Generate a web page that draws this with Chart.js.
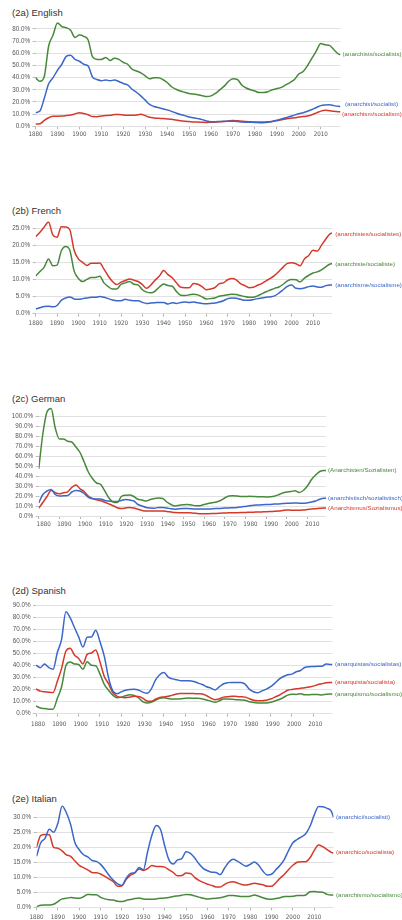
<!DOCTYPE html>
<html><head><meta charset="utf-8">
<script src="https://cdn.jsdelivr.net/npm/chart.js@4.4.1/dist/chart.umd.min.js"></script>
<style>
html,body{margin:0;padding:0;background:#fff;}
body{width:402px;height:920px;position:relative;overflow:hidden;font-family:"Liberation Sans",Arial,sans-serif;}
.title{position:absolute;left:12px;font-size:9.5px;line-height:12px;color:#333;white-space:nowrap;}
canvas{position:absolute;left:0;}
</style></head><body>
<div class="title" style="top:7px">(2a) English</div>
<div class="title" style="top:205px">(2b) French</div>
<div class="title" style="top:393px">(2c) German</div>
<div class="title" style="top:585px">(2d) Spanish</div>
<div class="title" style="top:793px">(2e) Italian</div>
<script>
// ---- x categories (years) ----
const years = [1880,1882,1884,1886,1888,1890,1892,1894,1896,1898,
  1900,1902,1904,1906,1908,1910,1912,1914,1916,1918,
  1920,1922,1924,1926,1928,1930,1932,1934,1936,1938,
  1940,1942,1944,1946,1948,1950,1952,1954,1956,1958,
  1960,1962,1964,1966,1968,1970,1972,1974,1976,1978,
  1980,1982,1984,1986,1988,1990,1992,1994,1996,1998,
  2000,2002,2004,2006,2008,2010,2012,2014,2016,2018,2019];

// ---- (2a) English ----
const enAnarchistsSocialists = [40,37,41,66,75,85,82,81,79,73,
  75,74,71,57,55,55,56.5,54,56,55,
  52.5,51,47,45.5,44,41.5,39,40,40,38.5,
  36,32.5,30.5,29,28,27,26.5,26,25.2,24.5,
  25,27,30,33,37,39,38.5,34,31.5,30,
  29,27.7,27.7,28.5,30,31,32,34,36,38.5,
  43,45,50,56,62,68,67,66.5,63,59.5,59];
const enAnarchistSocialist = [11.2,12.5,23,35,40,46,51,57.5,58.5,55,
  53.5,51,49.5,40.5,38.5,37.5,38,37.5,38,36.8,
  35.2,34,30.5,28,25,21.5,18,16.3,15.4,14.5,
  13.5,12.3,11,9.7,8.8,7.6,7,6.3,5.5,4.3,
  3.7,3.8,4,4.1,4.2,4.1,4,3.6,3.4,3.3,
  3.2,3,3,3.4,4.2,5,6,7,8,9.2,
  10.3,11.2,12.4,13.8,15.5,17,17.6,17.8,17,16.4,16.2];
const enAnarchismSocialism = [1.9,2.1,4.8,7,8.3,8.3,8.4,8.8,9.3,10.2,
  11.2,10.5,9.5,8,7.9,8.5,8.9,9,9.7,9.6,
  9.3,9,9,9.3,9.9,8.8,7.4,6.9,6.6,6.4,
  6.1,5.8,5.2,4.6,4.2,3.9,3.6,3.5,3.3,3.2,
  3.3,3.5,3.7,4,4.4,4.7,4.5,4.2,3.9,3.7,
  3.6,3.5,3.5,3.7,4,4.6,5.3,6,6.6,7,
  7.6,8,8.5,9.5,11,12.5,13.2,12.8,12.3,12,11.9];

// ---- (2b) French ----
const frAnarchistesSocialistes = [22.5,23.8,25.3,26.8,23,22.3,25.4,25.3,24.5,18.5,
  16,15,14.1,14.7,14.7,14.8,13,11,9.4,8.5,
  9.2,9.7,10.1,9.8,9.4,8.5,7.4,8.4,9.8,11,
  12.6,11.4,10.5,9,7.7,7.6,7.6,8.8,8.6,7.9,
  7,7.2,7.6,8.7,9,9.9,10.3,9.9,8.8,8.2,
  7.6,7.7,8.3,8.8,9.6,10.3,11.2,12.3,13.6,14.7,
  14.9,14.6,14,16,17,18.5,18.3,20,21.8,23.3,23.5];
const frAnarchisteSocialiste = [11,12.3,13.6,16,14,14.2,18.3,19.6,18.5,12.5,
  10.3,9.4,10,10.6,10.6,10.9,9,7.9,7.2,7.2,
  8.6,9,9.4,8.6,8.4,7,6.3,6.1,6.6,7.8,
  8.7,8.2,8,6.5,5.4,5.3,5.5,5.7,5.5,4.9,
  4.3,4.4,4.6,5.1,5.3,5.5,5.7,5.6,5.3,5,
  4.8,4.8,5.2,5.8,6.4,6.9,7.4,7.8,8.6,9.6,
  10,9.9,9.3,10.4,11.2,11.9,12.2,12.8,13.7,14.5,14.6];
const frAnarchismeSocialisme = [1.4,1.75,2.1,2.2,2,2.4,3.9,4.6,4.9,4.3,
  4.2,4.4,4.6,4.8,4.8,5,4.8,4.4,4,3.8,
  3.8,4.2,3.9,3.8,3.8,3.3,3,3.1,3.2,3.3,
  3.3,2.8,3.2,3,3.3,3.4,3.3,3.4,3.2,3,
  2.9,3,3.1,3.4,3.8,4.4,4.6,4.5,4.2,3.9,
  3.9,4.1,4.4,4.6,4.8,4.9,5.2,6,7,8,
  8.4,7.4,7.3,7.5,7.9,8.1,7.8,7.7,8.2,8.4,8.4];

// ---- (2c) German ----
const deAnarchistenSozialisten = [47,82,104,107.5,88,77,77,74.8,74,69,
  63.5,54,44,37.5,33,31.5,25,18,14,13.5,
  19.5,20.8,21,19.5,16.8,16,15,16.5,17.5,18,
  17.5,14,11.5,10,10.8,11.2,11.4,11,10.2,10.3,
  11.5,12.5,13.2,14,15.5,18,20,20.3,20,19.5,
  19.5,19.7,19.5,19.3,19.2,19.1,19.3,19.8,21.2,23,
  24,24.5,25.3,23.5,25.5,30,36.5,41,44.5,45.5,45.5];
const deAnarchistischSozialistisch = [13,21.5,25,26.5,21.5,20,20.2,20.4,24,25.6,
  25,22.5,18.7,17.3,17,17,15.5,15,14.6,14.6,
  15.5,16.5,16,15,11.5,10,8.5,8,7.7,8.6,
  8.5,8,7.2,6.8,7.3,7.4,7.4,7.2,7,7,
  7,7,7.2,7.4,7.6,8,8.1,8.3,8.5,9,
  9.6,10.2,10.8,11,11.2,11.4,11.6,11.9,12.1,12.4,
  12.7,12.8,13,12.8,12.7,13.2,14,15,16.8,17.7,17.7];
const deAnarchismusSozialismus = [7.7,13.5,19.5,25.5,23.3,22.2,23.3,24.2,28.5,31,
  27.2,24.5,20,17.6,16.3,15.2,13.7,12,10.3,8.3,
  7.5,8,8.4,8.1,6.8,5.6,5,5,5,5,
  5,4.6,4,3.4,3.3,3.3,3.3,3.1,2.8,2.3,
  2.3,2.3,2.4,2.6,2.8,3,3.2,3.3,3.3,3.4,
  3.6,3.7,3.8,4,4.1,4.2,4.4,4.7,5,5.5,
  6,5.8,5.7,5.7,6,6.5,7,7.3,7.7,8,8];

// ---- (2d) Spanish ----
const esAnarquistasSocialistas = [40.5,38.3,41.4,38.5,37,51,62,85,80,72,
  64,55.5,63.8,64,69.5,60,48,30,19,16.6,
  18.2,19.5,20.2,20.3,19.7,18,17,20.5,28,32.5,
  34.3,30.5,29,28.3,27.5,27.5,27.5,26.8,25.5,24.3,
  22.5,21.3,19.8,22.5,25,25.9,26.1,26.1,26,24.7,
  20.5,18.3,17.5,19,20.5,22.5,25.5,28.8,31,32.5,
  33,35,36,38.5,39.2,39.3,39.5,39.5,41.5,41.1,41];
const esAnarquistaSocialista = [20.6,18.8,18.2,17.8,17.6,27,37.8,52,54.5,49,
  46,41.5,49.4,50.6,53,43,31,25,17.5,14.5,
  13.6,13.3,13.8,14.5,14.3,13,10.6,10.3,12,13.6,
  14,14.5,15.5,16.5,16.8,16.9,16.9,16.8,16.6,16.4,
  15,13,11.6,12.5,13.8,14.2,14.6,14.4,14.1,13.8,
  12.5,11.2,10.8,10.8,11.3,12.2,13.8,15.4,17.5,19.5,
  20.2,20.7,21.2,21.6,22.3,23,24.2,25,25.8,26.1,26.1];
const esAnarquismoSocialismo = [6.4,4.8,4.3,3.8,3.8,12.8,22.5,40,43,41.5,
  41,37,43.3,40.3,40,33,24.5,19.5,15.5,13.2,
  13.8,15,15.8,15.3,13.3,10,9,9.5,11.2,12.8,
  13.3,12.6,12.2,12.2,12.4,12.9,13,12.8,12.8,12.3,
  11.4,10.4,9.5,10.8,12.2,12.2,12,11.7,11.5,11.2,
  10,9.4,9,8.9,9,9.6,10.6,11.8,13.5,15.5,
  16.3,16.1,16.6,15.8,15.8,16.1,16.1,15.6,16.2,16.4,16.4];

// ---- (2e) Italian ----
const itAnarchiciSocialisti = [17,21.5,23,26,25,28,33.8,31.5,27.5,21.5,
  19.2,17.5,16.8,15.6,15.3,14.3,12.6,10.6,9,7.8,
  7.3,9.7,11.3,11.5,13.3,12.5,18.5,24,27.3,26,
  20.5,15.8,14.4,15.8,16.2,18.5,18,16.5,14.5,13,
  12.2,11.7,11.6,10.9,13,15,16,15.4,14.5,13.7,
  14.3,15.1,14,12,10.8,11,12.5,14,16,19,
  21.5,22.6,23.5,24.5,27,30.8,33.6,33.5,33,32,30];
const itAnarchicoSocialista = [20,24,24.3,24.2,20,19.7,18.8,17.5,17,15.4,
  14,13.2,12.5,11.6,11.5,11.1,10.3,9.4,8.5,7,
  7.2,9.3,10.7,11.5,12.8,12.3,12.9,13.9,13.6,13.6,
  13.4,12.5,11.6,10.5,10.6,11.4,11.3,10,9,8.3,
  7.7,7.3,6.8,6.8,7.6,8.3,8.5,8.1,7.6,7.4,
  7.7,8,7.8,7.5,7,7,8.2,9.7,11,12.6,
  14,15,15.2,15.2,16.5,19,20.8,20.2,19.2,18.3,18];
const itAnarchismoSocialismo = [0.2,0.7,0.8,0.8,1,1.9,2.8,3,3.3,3.1,
  3,3.5,4.3,4.2,4.2,3.3,2.8,2.5,2.4,2,
  1.9,2.3,2.6,2.9,3.1,2.8,2.7,2.7,2.8,3,
  3.1,3.3,3.6,3.8,4,4.3,4.2,3.8,3.4,3,
  2.8,2.9,3,3.2,3.5,3.9,3.9,3.8,3.6,3.6,
  3.7,4.1,3.7,3.2,2.8,2.7,2.9,3.2,3.6,3.6,
  3.7,3.9,3.9,4.1,5.2,5.3,5.1,5,4.3,4.1,4.1];

// ---- styling / layout ----
const FONT = '"Liberation Sans", Arial, sans-serif';
const NARROW = '"Liberation Sans Narrow", "DejaVu Sans Condensed", "Liberation Sans", Arial, sans-serif';
const COL = {green:'#47893a', blue:'#3a67c9', red:'#d4392b'};

const panels = [
  {top:0, height:142, left:35.5, right:340.5, yTop:21.7, yBottom:126.3, max:86, step:10, xPad:1, xOff:0,
   series:[
     {label:'(anarchists/socialists)', data:enAnarchistsSocialists, color:COL.green, dx:2, dy:0},
     {label:'(anarchist/socialist)', data:enAnarchistSocialist, color:COL.blue, dx:4.5, dy:-2.3},
     {label:'(anarchism/socialism)', data:enAnarchismSocialism, color:COL.red, dx:1.5, dy:2}]},
  {top:200, height:132, left:35.7, right:332.2, yTop:221.2, yBottom:313.7, max:27, step:5, xPad:2.5, xOff:0,
   series:[
     {label:'(anarchistes/socialistes)', data:frAnarchistesSocialistes, color:COL.red, dx:3, dy:1},
     {label:'(anarchiste/socialiste)', data:frAnarchisteSocialiste, color:COL.green, dx:3, dy:1},
     {label:'(anarchisme/socialisme)', data:frAnarchismeSocialisme, color:COL.blue, dx:3, dy:0}]},
  {top:390, height:140, left:38.7, right:326, yTop:406.5, yBottom:516, max:109.5, step:10, xPad:2, xOff:5,
   series:[
     {label:'(Anarchisten/Sozialisten)', data:deAnarchistenSozialisten, color:COL.green, dx:2, dy:0},
     {label:'(anarchistisch/sozialistisch)', data:deAnarchistischSozialistisch, color:COL.blue, dx:2, dy:0},
     {label:'(Anarchismus/Sozialismus)', data:deAnarchismusSozialismus, color:COL.red, dx:2, dy:0}]},
  {top:580, height:150, left:36, right:332.5, yTop:605.7, yBottom:713.7, max:90, step:10, xPad:4, xOff:2,
   series:[
     {label:'(anarquistas/socialistas)', data:esAnarquistasSocialistas, color:COL.blue, dx:2.5, dy:0},
     {label:'(anarquista/socialista)', data:esAnarquistaSocialista, color:COL.red, dx:2.5, dy:0},
     {label:'(anarquismo/socialismo)', data:esAnarquismoSocialismo, color:COL.green, dx:2.5, dy:0}]},
  {top:790, height:130, left:36.5, right:333.5, yTop:805.3, yBottom:907.3, max:34, step:5, xPad:3, xOff:0,
   series:[
     {label:'(anarchici/socialisti)', data:itAnarchiciSocialisti, color:COL.blue, dx:2.5, dy:0},
     {label:'(anarchico/socialista)', data:itAnarchicoSocialista, color:COL.red, dx:2.5, dy:-1},
     {label:'(anarchismo/socialismo)', data:itAnarchismoSocialismo, color:COL.green, dx:2.5, dy:0}]}
];

const endLabels = {
  id:'endLabels',
  afterDatasetsDraw(chart, args, opts){
    const ctx = chart.ctx, xs = chart.scales.x, ys = chart.scales.y;
    ctx.save();
    ctx.font = '6.2px ' + FONT;
    ctx.textBaseline = 'middle';
    ctx.textAlign = 'left';
    (opts.items || []).forEach((it, i) => {
      const pts = chart.data.datasets[i].data;
      const last = pts[pts.length - 1];
      ctx.fillStyle = it.color;
      ctx.fillText(it.label, xs.getPixelForValue(last.x) + it.dx, ys.getPixelForValue(last.y) + it.dy);
    });
    ctx.restore();
  }
};

panels.forEach(p => {
  const cv = document.createElement('canvas');
  cv.width = 402; cv.height = p.height;
  cv.style.top = p.top + 'px';
  cv.style.width = '402px'; cv.style.height = p.height + 'px';
  document.body.appendChild(cv);
  new Chart(cv.getContext('2d'), {
    type:'line',
    data:{datasets:p.series.map(s => ({
      label:s.label,
      data:years.map((y, i) => ({x:y, y:s.data[i]})),
      borderColor:s.color, backgroundColor:s.color,
      borderWidth:1.5, pointRadius:0, fill:false,
      cubicInterpolationMode:'monotone'
    }))},
    options:{
      responsive:false, animation:false, devicePixelRatio:1,
      layout:{padding:{top:p.yTop - p.top, right:402 - p.right, left:0, bottom:0}},
      plugins:{legend:{display:false}, tooltip:{enabled:false}, title:{display:false},
        endLabels:{items:p.series}},
      scales:{
        x:{type:'linear', min:1880, max:2019,
          afterFit:s => { s.height = p.top + p.height - p.yBottom; },
          border:{display:false},
          grid:{drawOnChartArea:false, drawTicks:true, tickLength:3, tickColor:'#b5b5b5'},
          ticks:{stepSize:10, includeBounds:false, autoSkip:false, maxRotation:0, minRotation:0,
            padding:p.xPad, labelOffset:p.xOff, color:'#555', font:{family:NARROW, size:6.2},
            callback:v => String(v)}},
        y:{min:0, max:p.max,
          afterFit:s => { s.width = p.left; },
          border:{display:false},
          grid:{color:'#e1e1e1', lineWidth:1, tickLength:3, tickColor:'#bdbdbd'},
          ticks:{stepSize:p.step, includeBounds:false, padding:2.5, color:'#555',
            font:{family:FONT, size:6.3}, callback:v => v.toFixed(1) + '%'}}
      }
    },
    plugins:[endLabels]
  });
});
</script>
</body></html>
